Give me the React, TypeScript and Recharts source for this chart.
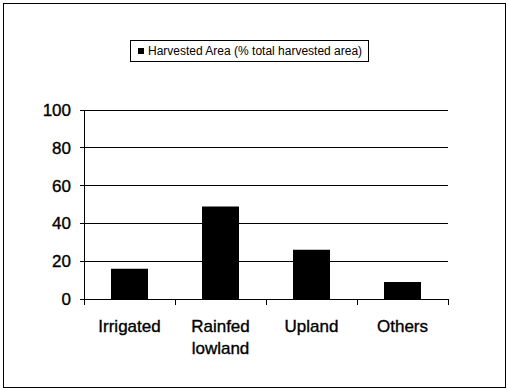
import React from "react";
import {
  BarChart,
  Bar,
  XAxis,
  YAxis,
  CartesianGrid,
  Legend,
} from "recharts";

const categories = ["Irrigated", "Rainfed lowland", "Upland", "Others"];
const harvestedArea = [16, 49, 26, 9];
const yTicks = [0, 20, 40, 60, 80, 100];
const seriesName = "Harvested Area (% total harvested area)";

const data = categories.map((name, i) => ({ name, value: harvestedArea[i] }));

const FONT = "'Liberation Sans', Arial, sans-serif";
const LABEL_GAP = 21;
const EDGE_TICK = 6;

// category label, plus the tick marks on the category boundaries (Excel style)
const CategoryTick = (props: any) => {
  const { x, y, payload, index } = props;
  const words = String(payload.value).split(" ");
  const half = payload.offset || 0;
  const axisY = y - LABEL_GAP;
  const isLast = index === categories.length - 1;
  return (
    <g>
      <line
        x1={x - half}
        x2={x - half}
        y1={axisY}
        y2={axisY + EDGE_TICK}
        stroke="#000"
      />
      {isLast && (
        <line
          x1={x + half}
          x2={x + half}
          y1={axisY}
          y2={axisY + EDGE_TICK}
          stroke="#000"
        />
      )}
      <text
        x={x}
        y={y}
        textAnchor="middle"
        fontFamily={FONT}
        fontSize={17}
        fill="#000"
        stroke="#000"
        strokeWidth={0.35}
      >
        {words.map((w, i) => (
          <tspan key={w} x={x} dy={i === 0 ? "0.71em" : 22}>
            {w}
          </tspan>
        ))}
      </text>
    </g>
  );
};

const renderLegend = (props: any) => {
  const item = props.payload && props.payload[0];
  return (
    <div
      style={{
        boxSizing: "border-box",
        border: "1px solid #000",
        width: 239,
        height: 22,
        background: "#fff",
        display: "flex",
        alignItems: "center",
        fontFamily: FONT,
        fontSize: 12,
        color: "#000",
        paddingLeft: 7,
        whiteSpace: "nowrap",
      }}
    >
      <span
        style={{
          display: "inline-block",
          width: 6,
          height: 6,
          background: "#000",
          marginRight: 4,
        }}
      />
      <span>{item ? item.value : seriesName}</span>
    </div>
  );
};

export default function App() {
  return (
    <div
      style={{
        position: "absolute",
        left: 0,
        top: 0,
        width: 508,
        height: 390,
        background: "#fff",
      }}
      className="chart"
    >
      <style>{".chart svg line { shape-rendering: crispEdges; }"}</style>
      <div
        style={{
          position: "absolute",
          left: 3,
          top: 3,
          width: 503,
          height: 385,
          boxSizing: "border-box",
          border: "1px solid #000",
        }}
      />
      <div style={{ position: "absolute", left: 0, top: 0 }}>
        <BarChart
          width={508}
          height={390}
          data={data}
          margin={{ top: 110, right: 60, left: 0, bottom: 0 }}
        >
          <CartesianGrid vertical={false} stroke="#000" strokeWidth={1} />
          <XAxis
            dataKey="name"
            tick={<CategoryTick />}
            tickLine={false}
            tickSize={0}
            tickMargin={LABEL_GAP}
            axisLine={{ stroke: "#000" }}
            height={91}
            interval={0}
          />
          <YAxis
            domain={[0, 100]}
            ticks={yTicks}
            width={84}
            tickSize={4}
            tickMargin={9}
            axisLine={{ stroke: "#000" }}
            tickLine={{ stroke: "#000" }}
            tick={{
              fill: "#000",
              fontSize: 17,
              fontFamily: FONT,
              stroke: "#000",
              strokeWidth: 0.35,
            }}
          />
          <YAxis
            yAxisId="r"
            orientation="right"
            domain={[0, 100]}
            width={0}
            tick={false}
            tickLine={false}
            axisLine={{ stroke: "#000" }}
          />
          <Legend
            verticalAlign="middle"
            align="center"
            layout="horizontal"
            content={renderLegend}
            wrapperStyle={{ left: 130, top: 40, width: 239, height: 22 }}
          />
          <Bar
            dataKey="value"
            name={seriesName}
            fill="#000"
            barSize={37}
            isAnimationActive={false}
          />
        </BarChart>
      </div>
    </div>
  );
}
